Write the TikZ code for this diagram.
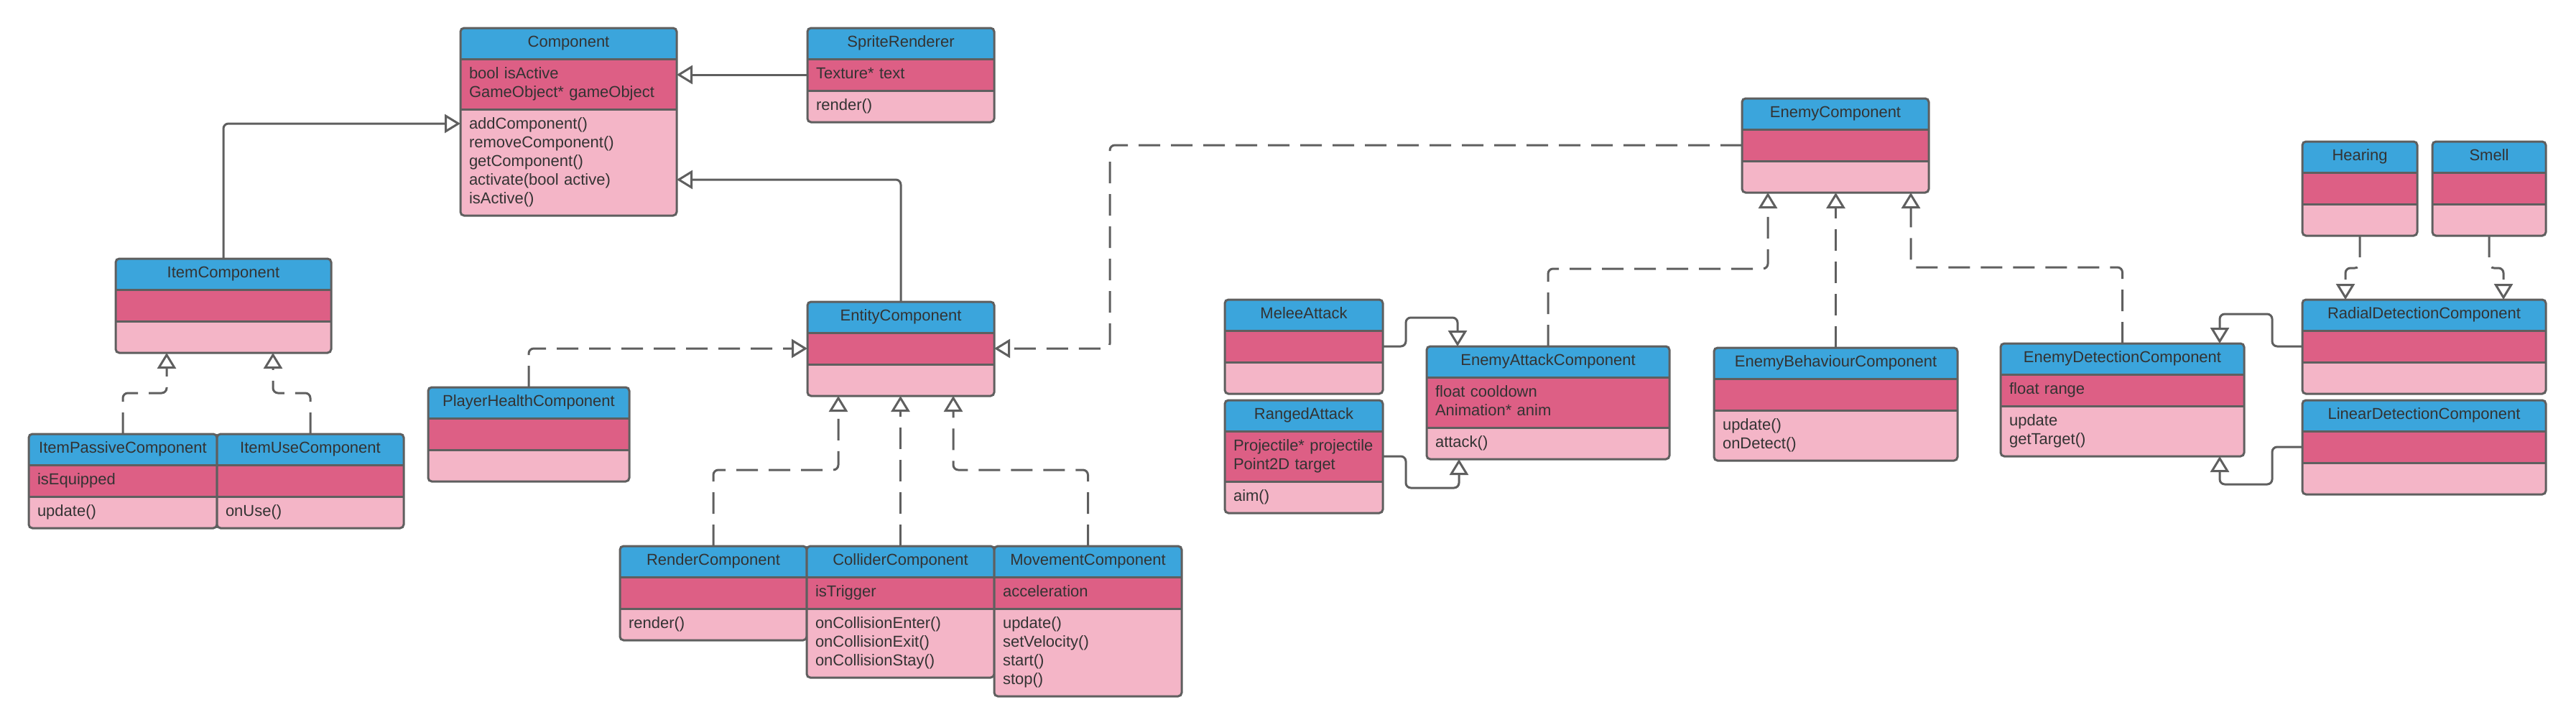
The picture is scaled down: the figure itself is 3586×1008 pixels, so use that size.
\documentclass[tikz,border=0pt]{standalone}
\usepackage{fontspec}
\setmainfont{Liberation Sans}
\usetikzlibrary{positioning, calc, arrows.meta}

\definecolor{headblue}{HTML}{3BA5DC}
\definecolor{attrred}{HTML}{DD5F85}
\definecolor{methpink}{HTML}{F4B5C7}
\definecolor{linegray}{HTML}{5F5F5F}
\definecolor{textgray}{HTML}{333333}

\tikzset{
  classbox/.style={outer sep=0pt, inner xsep=6pt, text=textgray,
    font=\fontsize{11}{13}\selectfont,
    execute at begin node=\strut, execute at end node=\strut},
  classhead/.style={classbox, fill=headblue, align=center, inner ysep=4.25pt, anchor=north west},
  classattr/.style={classbox, fill=attrred, align=left, inner ysep=4.5pt},
  classmeth/.style={classbox, fill=methpink, align=left, inner ysep=4.5pt},
  classframe/.style={draw=linegray, line width=1.5pt, rounded corners=2.5pt},
  inherit/.style={draw=linegray, line width=1.5pt, rounded corners=3.5pt,
    -{Triangle[open, length=11pt, width=13pt]}},
  realize/.style={inherit, dash pattern=on 15pt off 7.5pt}
}

% name, x, y, width (px), title, attributes, methods
\newcommand{\umlclass}[7]{%
  \pgfmathsetlengthmacro{\classtw}{#4*0.5pt-12pt}
  \node[classhead, text width=\classtw] (#1) at (#2,#3) {#5};
  \node[classattr, text width=\classtw, below=0pt of #1] (#1-a) {#6};
  \node[classmeth, text width=\classtw, below=0pt of #1-a] (#1-m) {#7};
  \draw[classframe] (#1.north west) rectangle (#1-m.south east);
  \draw[classframe] (#1.south west) -- (#1.south east) (#1-a.south west) -- (#1-a.south east);
}

\begin{document}
\begin{tikzpicture}[x=0.5pt, y=-0.5pt]
\fill[white] (0,0) rectangle (3586,1008);
\useasboundingbox (0,0) rectangle (3586,1008);

% base classes
\umlclass{comp}{641}{39}{301}{Component}{bool isActive\\GameObject* gameObject}
  {addComponent()\\removeComponent()\\getComponent()\\activate(bool active)\\isActive()}
\umlclass{sr}{1124}{39}{260}{SpriteRenderer}{Texture* text}{render()}
\umlclass{ic}{161}{360}{300}{ItemComponent}{}{}
\umlclass{ipc}{40}{604}{262}{ItemPassiveComponent}{isEquipped}{update()}
\umlclass{iuc}{302}{604}{260}{ItemUseComponent}{}{onUse()}
\umlclass{ec}{1124}{420}{260}{EntityComponent}{}{}
\umlclass{phc}{596}{539}{280}{PlayerHealthComponent}{}{}
\umlclass{rc}{863}{760}{260}{RenderComponent}{}{render()}
\umlclass{cc}{1123}{760}{261}{ColliderComponent}{isTrigger}
  {onCollisionEnter()\\onCollisionExit()\\onCollisionStay()}
\umlclass{mc}{1384}{760}{261}{MovementComponent}{acceleration}
  {update()\\setVelocity()\\start()\\stop()}

% enemy classes
\umlclass{enc}{2425}{137}{260}{EnemyComponent}{}{}
\umlclass{ma}{1705}{417}{220}{MeleeAttack}{}{}
\umlclass{ra}{1705}{557}{220}{RangedAttack}{Projectile* projectile\\Point2D target}{aim()}
\umlclass{eac}{1986}{482}{338}{EnemyAttackComponent}{float cooldown\\Animation* anim}{attack()}
\umlclass{ebc}{2386}{484}{339}{EnemyBehaviourComponent}{}{update()\\onDetect()}
\umlclass{edc}{2785}{478}{339}{EnemyDetectionComponent}{float range}{update\\getTarget()}
\umlclass{hr}{3205}{197}{160}{Hearing}{}{}
\umlclass{sm}{3386}{197}{158}{Smell}{}{}
\umlclass{rdc}{3205}{417}{339}{RadialDetectionComponent}{}{}
\umlclass{ldc}{3205}{557}{339}{LinearDetectionComponent}{}{}

% generalization
\draw[inherit] (sr-a.west) -- (sr-a.west -| comp.east);
\draw[inherit] (ic.north) |- ($(comp-m.north west)+(0,20)$);
\draw[inherit] (ec.north) |- ($(comp-m.north east)+(0,98)$);
\draw[inherit] (ma-a.east) -| ++(32,-40) -| ($(eac.north west)+(43,0)$);
\draw[inherit] (ra-a.east) -| ++(32,44) -| ($(eac-m.south west)+(45,0)$);
\draw[inherit] (rdc-a.west) -| ++(-42,-45) -| ($(edc.north west)+(305,0)$);
\draw[inherit] (ldc-a.west) -| ++(-42,52) -| ($(edc-m.south west)+(305,0)$);

% realization
\draw[realize] (ipc.north) -- ++(0,-57) -| ($(ic-m.south west)+(71,0)$);
\draw[realize] (iuc.north) -- ++(0,-57) -| ($(ic-m.south west)+(219,0)$);
\draw[realize] (phc.north) |- (ec-a.west);
\draw[realize] (enc-a.west) -| ($(ec-a.east)+(161,0)$) -- (ec-a.east);
\draw[realize] (rc.north) -- ++(0,-106) -| ($(ec-m.south west)+(43,0)$);
\draw[realize] (cc.north) -- (cc.north |- ec-m.south);
\draw[realize] (mc.north) -- ++(0,-106) -| ($(ec-m.south east)+(-57,0)$);
\draw[realize] (eac.north) -- ++(0,-108) -| ($(enc-m.south west)+(36,0)$);
\draw[realize] (ebc.north) -- (ebc.north |- enc-m.south);
\draw[realize] (edc.north) -- ++(0,-106) -| ($(enc-m.south east)+(-25,0)$);
\draw[realize] (hr-m.south) -- ++(0,45) -| ($(rdc.north west)+(60,0)$);
\draw[realize] (sm-m.south) -- ++(0,45) -| ($(rdc.north east)+(-59,0)$);
\end{tikzpicture}
\end{document}
